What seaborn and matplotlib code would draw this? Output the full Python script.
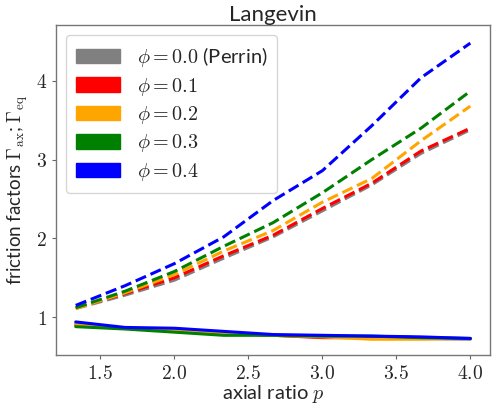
import numpy as np
import pandas as pd
import matplotlib
matplotlib.use("Agg")
import matplotlib.pyplot as plt
import matplotlib.patches as mpatches
import seaborn as sns

# axial ratios
p = [4/3, 5/3, 2.0, 7/3, 8/3, 3.0, 10/3, 11/3, 4.0]

phis = ["0.0", "0.1", "0.2", "0.3", "0.4"]
colors = ["gray", "red", "orange", "green", "blue"]
legend_labels = [r"$\phi = 0.0$ (Perrin)", r"$\phi = 0.1$", r"$\phi = 0.2$",
                 r"$\phi = 0.3$", r"$\phi = 0.4$"]

# equatorial friction factors (dashed)
eq_00 = [1.11, 1.28, 1.47, 1.75, 2.02, 2.35, 2.68, 3.08, 3.38]
eq_01 = [1.12, 1.30, 1.50, 1.78, 2.04, 2.38, 2.70, 3.11, 3.40]
eq_02 = [1.11, 1.31, 1.54, 1.84, 2.10, 2.46, 2.76, 3.24, 3.68]
eq_03 = [1.12, 1.33, 1.58, 1.90, 2.20, 2.58, 3.00, 3.40, 3.87]
eq_04 = [1.15, 1.40, 1.68, 2.02, 2.48, 2.86, 3.43, 4.04, 4.48]

# axial friction factors (solid)
ax_00 = [0.90, 0.86, 0.83, 0.80, 0.77, 0.75, 0.74, 0.73, 0.72]
ax_01 = [0.91, 0.86, 0.84, 0.80, 0.77, 0.74, 0.74, 0.73, 0.73]
ax_02 = [0.91, 0.86, 0.84, 0.80, 0.77, 0.75, 0.72, 0.72, 0.73]
ax_03 = [0.88, 0.85, 0.81, 0.77, 0.77, 0.76, 0.76, 0.74, 0.73]
ax_04 = [0.94, 0.87, 0.86, 0.82, 0.78, 0.77, 0.76, 0.75, 0.73]

eq_all = [eq_00, eq_01, eq_02, eq_03, eq_04]
ax_all = [ax_00, ax_01, ax_02, ax_03, ax_04]

rows = []
for phi, eq, axv in zip(phis, eq_all, ax_all):
    for pi, e, a in zip(p, eq, axv):
        rows.append({"p": pi, "phi": phi, "kind": "eq", "gamma": e})
        rows.append({"p": pi, "phi": phi, "kind": "ax", "gamma": a})
df = pd.DataFrame(rows)

sns.set_style("white")
plt.rcParams["font.family"] = ["Lato", "DejaVu Sans"]
plt.rcParams["mathtext.fontset"] = "cm"

fig = plt.figure(figsize=(4.92, 4.08), dpi=100)
ax = fig.add_axes([56 / 492, 53 / 408, 434 / 492, 330 / 408])

for phi, col in zip(phis, colors):
    sub = df[df["phi"] == phi]
    sns.lineplot(data=sub[sub["kind"] == "eq"], x="p", y="gamma", color=col,
                 linestyle="--", linewidth=2.2, ax=ax, legend=False)
    sns.lineplot(data=sub[sub["kind"] == "ax"], x="p", y="gamma", color=col,
                 linestyle="-", linewidth=2.2, ax=ax, legend=False)

ax.set_xlim(1.2, 4.133)
ax.set_ylim(0.52, 4.71)
ax.set_xticks([1.5, 2.0, 2.5, 3.0, 3.5, 4.0])
ax.set_xticklabels([f"${v:.1f}$" for v in [1.5, 2.0, 2.5, 3.0, 3.5, 4.0]])
ax.set_yticks([1, 2, 3, 4])
ax.set_yticklabels([f"${v}$" for v in [1, 2, 3, 4]])
ax.tick_params(axis="both", labelsize=14, length=3, color="#666666",
               direction="out", bottom=True, left=True)
for s in ax.spines.values():
    s.set_color("#777777")
    s.set_linewidth(1.0)

ax.set_xlabel(r"axial ratio $p$", fontsize=14.5, labelpad=1)
ax.set_ylabel(r"friction factors $\Gamma_{\rm ax}$; $\Gamma_{\rm eq}$",
              fontsize=13.5, labelpad=4)
ax.set_title("Langevin", fontsize=16, pad=3)

handles = [mpatches.Patch(color=c, label=l) for c, l in zip(colors, legend_labels)]
ax.legend(handles=handles, loc="upper left", fontsize=14.5, frameon=True,
          handlelength=2.2, handleheight=0.75, borderpad=0.5, labelspacing=0.32,
          fancybox=True, framealpha=0.8, edgecolor="#cccccc")

fig.savefig("out.png", dpi=100)
